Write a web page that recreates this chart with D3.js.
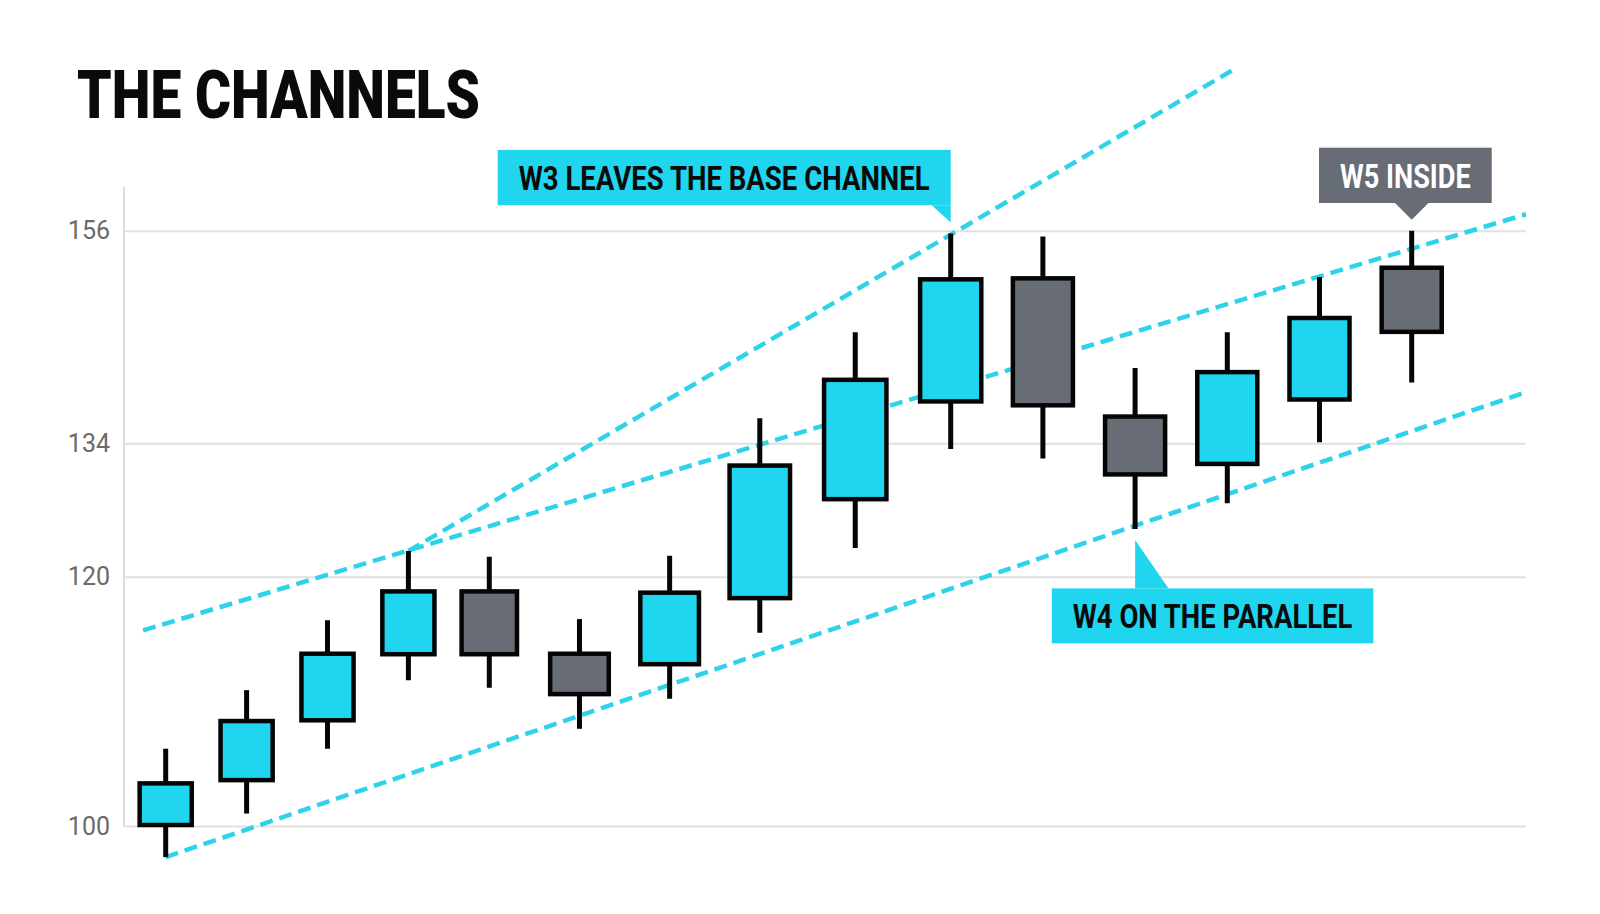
<!DOCTYPE html>
<html>
<head>
<meta charset="utf-8">
<script src="https://cdn.jsdelivr.net/npm/d3@7"></script>
<style>
  html, body { margin: 0; padding: 0; background: #ffffff; }
  svg { display: block; }
</style>
</head>
<body>
<div id="chart"></div>
<script>
// candle data, one entry per session
const sessions = d3.range(15);
const opens  = [99.9, 103.5, 108.3, 113.6, 119.0, 114.0, 112.8, 118.1, 127.9, 138.1, 151.3, 137.0, 131.6, 138.3, 152.4];
const highs  = [106.2, 110.9, 116.5, 122.7, 122.1, 116.6, 122.2, 136.6, 145.5, 155.7, 155.4, 141.8, 145.5, 151.2, 156.0];
const lows   = [97.5, 101.0, 106.2, 111.7, 111.1, 107.8, 110.2, 115.5, 123.0, 133.4, 132.4, 125.0, 127.7, 134.1, 140.3];
const closes = [103.6, 108.6, 114.0, 119.0, 113.6, 110.4, 118.9, 131.9, 140.8, 151.2, 137.7, 130.5, 141.6, 147.2, 145.3];

const yTicks = [100, 120, 134, 156];

// channel lines: start/end as (session index, price)
const channelNames    = ["base upper", "parallel", "w3 channel"];
const channelStartIdx = [-0.28, 0, 3];
const channelStartVal = [115.7, 97.5, 122.7];
const channelEndIdx   = [15.24, 15.24, 12.11];
const channelEndVal   = [157.7, 139.3, 172.9];

// callouts
const noteTexts   = ["W3 LEAVES THE BASE CHANNEL", "W4 ON THE PARALLEL", "W5 INSIDE"];
const noteCandles = [9, 11, 14];
const noteAnchors = ["high", "low", "high"];

const width = 1600;
const height = 914;
const CYAN = "#1fd6ee";
const GRAY = "#676c75";

const svg = d3.select("#chart")
  .append("svg")
  .attr("width", width)
  .attr("height", height);

// scales (the picture spaces its ticks and sessions unevenly, so use polylinear scales)
const x = d3.scaleLinear()
  .domain([0, 4, 7, 9, 14])
  .range([165.7, 489.3, 759.8, 950.7, 1411.7]);

const y = d3.scaleLinear()
  .domain([100, 120, 134, 156])
  .range([826, 576.7, 443.3, 230.7]);

const plotLeft = 124;
const plotRight = 1526;

// title
svg.append("text")
  .attr("x", 77)
  .attr("y", 118)
  .attr("textLength", 403)
  .attr("lengthAdjust", "spacingAndGlyphs")
  .style("font-family", "Roboto, 'DejaVu Sans', sans-serif")
  .style("font-weight", 900)
  .style("font-size", "67px")
  .style("fill", "#0a0a0a")
  .text("THE CHANNELS");

// grid + axis
const yAxis = d3.axisLeft(y)
  .tickValues(yTicks)
  .tickSize(-(plotRight - plotLeft))
  .tickPadding(14)
  .tickFormat(d3.format("d"));

const axisG = svg.append("g")
  .attr("transform", `translate(${plotLeft},0)`)
  .call(yAxis);

axisG.select(".domain").remove();
axisG.selectAll(".tick line")
  .attr("stroke", "#e1e1e1")
  .attr("stroke-width", 2);
axisG.selectAll(".tick text")
  .style("font-family", "Roboto, sans-serif")
  .style("font-size", "25px")
  .style("fill", "#6a6a6a");

svg.append("line")
  .attr("x1", plotLeft)
  .attr("x2", plotLeft)
  .attr("y1", 187)
  .attr("y2", y(100))
  .attr("stroke", "#dcdcdc")
  .attr("stroke-width", 2);

// channel lines (drawn under the candles)
const channels = channelNames.map((name, i) => ({
  name,
  x1: x(channelStartIdx[i]), y1: y(channelStartVal[i]),
  x2: x(channelEndIdx[i]),   y2: y(channelEndVal[i])
}));

svg.append("g")
  .selectAll("line")
  .data(channels)
  .enter()
  .append("line")
  .attr("x1", d => d.x1)
  .attr("y1", d => d.y1)
  .attr("x2", d => d.x2)
  .attr("y2", d => d.y2)
  .attr("stroke", "#2ed3ea")
  .attr("stroke-width", 4.5)
  .attr("stroke-dasharray", "13 7");

// candles
const candles = sessions.map(i => ({
  i,
  open: opens[i], high: highs[i], low: lows[i], close: closes[i]
}));

const stepAt = i => x(i + 0.5) - x(i - 0.5);

const candleG = svg.append("g")
  .selectAll("g")
  .data(candles)
  .enter()
  .append("g");

candleG.append("line")
  .attr("x1", d => x(d.i))
  .attr("x2", d => x(d.i))
  .attr("y1", d => y(d.high))
  .attr("y2", d => y(d.low))
  .attr("stroke", "#050505")
  .attr("stroke-width", 5);

candleG.append("rect")
  .attr("x", d => x(d.i) - stepAt(d.i) * 0.7 / 2 + 2.25)
  .attr("width", d => stepAt(d.i) * 0.7 - 4.5)
  .attr("y", d => y(Math.max(d.open, d.close)) + 2.25)
  .attr("height", d => Math.abs(y(d.open) - y(d.close)) - 4.5)
  .attr("fill", d => d.close > d.open ? CYAN : GRAY)
  .attr("stroke", "#050505")
  .attr("stroke-width", 4.5);

// callouts
const notes = noteTexts.map((text, k) => {
  const c = candles[noteCandles[k]];
  const tx = x(c.i);
  const ty = noteAnchors[k] === "high" ? y(c.high) - 11 : y(c.low) + 11;
  return { text, tx, ty, k };
});

// box layout per callout, relative to the pointer tip
const boxLayout = [
  { left: -453, right: 0, top: -72.7, bottom: -17.4, fill: CYAN, color: "#0b0b0b",
    ptr: (tx, ty, b) => [[tx - 19, b.y2], [tx, b.y2], [tx, ty]] },
  { left: -83.3, right: 238.3, top: 48.3, bottom: 103.3, fill: CYAN, color: "#0b0b0b",
    ptr: (tx, ty, b) => [[tx, b.y1], [tx + 33.3, b.y1], [tx, ty]] },
  { left: -92.7, right: 80, top: -72, bottom: -16.7, fill: GRAY, color: "#ffffff",
    ptr: (tx, ty, b) => [[tx - 16.7, b.y2], [tx + 16.7, b.y2], [tx, ty]] }
];

const pad = 21;

notes.forEach(n => {
  const L = boxLayout[n.k];
  const b = { x1: n.tx + L.left, x2: n.tx + L.right, y1: n.ty + L.top, y2: n.ty + L.bottom };
  const g = svg.append("g");

  g.append("rect")
    .attr("x", b.x1)
    .attr("y", b.y1)
    .attr("width", b.x2 - b.x1)
    .attr("height", b.y2 - b.y1)
    .attr("fill", L.fill);

  g.append("polygon")
    .attr("points", L.ptr(n.tx, n.ty, b).map(p => p.join(",")).join(" "))
    .attr("fill", L.fill);

  g.append("text")
    .attr("x", b.x1 + pad)
    .attr("y", (b.y1 + b.y2) / 2 + 12.3)
    .attr("textLength", b.x2 - b.x1 - pad * 2)
    .attr("lengthAdjust", "spacingAndGlyphs")
    .style("font-family", "Roboto, 'DejaVu Sans', sans-serif")
    .style("font-weight", 700)
    .style("font-size", "34px")
    .style("fill", L.color)
    .text(n.text);
});
</script>
</body>
</html>
